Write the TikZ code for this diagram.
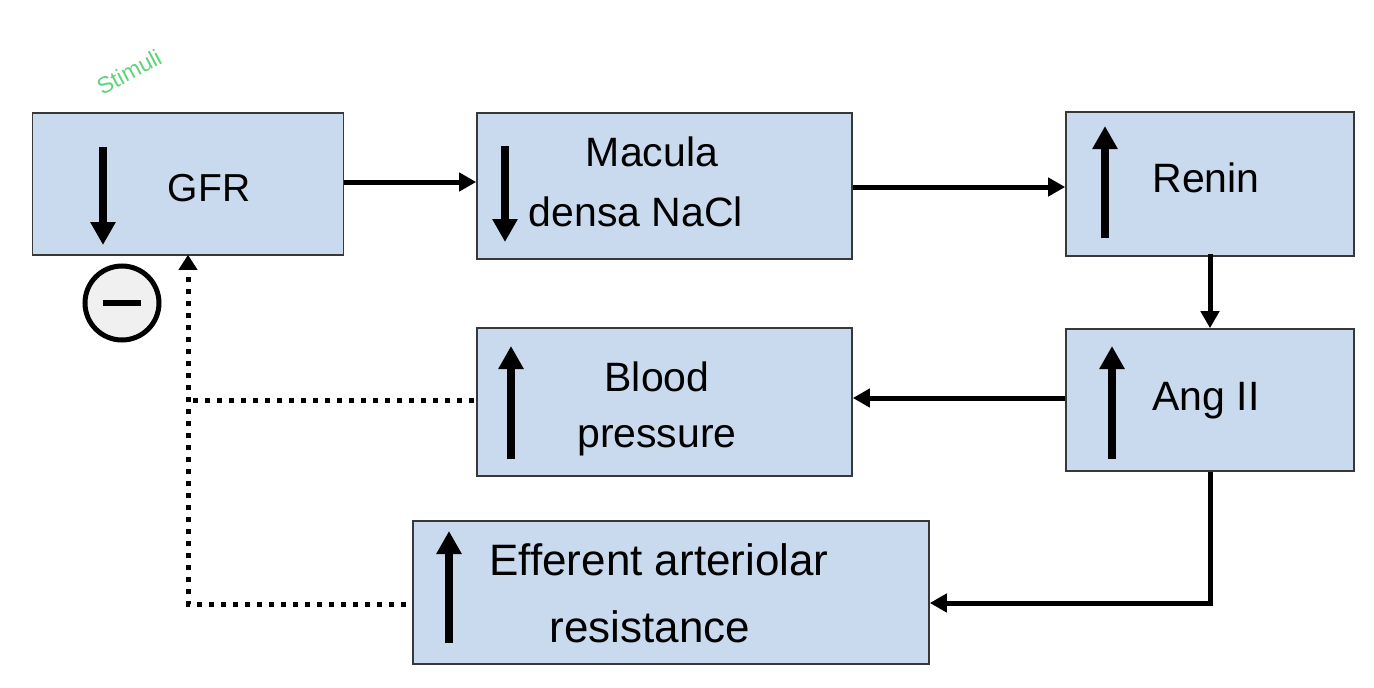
\documentclass[tikz,border=0pt]{standalone}
\usepackage{fontspec}
\setmainfont{Liberation Sans}
\usetikzlibrary{arrows.meta}
\definecolor{boxfill}{HTML}{C9DAEE}
\definecolor{boxline}{HTML}{383838}
\definecolor{stimgreen}{HTML}{5ED37A}
\tikzset{
  box/.style={draw=boxline, line width=1.6pt, fill=boxfill, inner sep=0pt},
  lbl/.style={align=center, inner sep=0pt},
  conn/.style={line width=5pt, -{Triangle[length=17pt,width=18pt]}},
  updown/.style={line width=8pt, -{Triangle[length=23pt,width=24pt]}},
  dotline/.style={line width=5pt, dash pattern=on 5pt off 7pt},
  dotarrow/.style={dotline, -{Triangle[length=15pt,width=18pt]}}
}
\begin{document}
\begin{tikzpicture}[x=1pt,y=-1pt]
\useasboundingbox (0,0) rectangle (1374,688);
% boxes
\node[box, minimum width=311pt, minimum height=142pt] (gfr) at (188,184) {};
\node[box, minimum width=375pt, minimum height=146pt] (mac) at (664.5,186) {};
\node[box, minimum width=288pt, minimum height=144pt] (ren) at (1210,184) {};
\node[box, minimum width=288pt, minimum height=142pt] (ang) at (1210,400) {};
\node[box, minimum width=375pt, minimum height=148pt] (bp) at (664.5,402) {};
\node[box, minimum width=516pt, minimum height=143pt] (eff) at (671,592.5) {};
% texts
\node[lbl, font=\fontsize{39}{47}\selectfont] (gfrT) at (209,188) {GFR};
\node[lbl, font=\fontsize{41}{60}\selectfont] (macT) at (652,182) {Macula\\densa NaCl\hspace*{32pt}};
\node[lbl, font=\fontsize{41}{50}\selectfont] (renT) at (1206,178) {Renin};
\node[lbl, font=\fontsize{41}{50}\selectfont] (angT) at (1206,401) {Ang II};
\node[lbl, font=\fontsize{41}{56}\selectfont] (bpT) at (657,409) {Blood\\pressure};
\node[lbl, font=\fontsize{44}{67}\selectfont] (effT) at (659,593) {Efferent arteriolar\\resistance\hspace*{18pt}};
\node[font=\fontsize{23}{26}\selectfont, text=stimgreen, rotate=28] (stim) at (129,72) {Stimuli};
% inner arrows
\draw[updown] (103,147) -- (103,245);
\draw[updown] (505,146) -- (505,242);
\draw[updown] (1105,238) -- (1105,126);
\draw[updown] (1112,459) -- (1112,346);
\draw[updown] (511,459) -- (511,346);
\draw[updown] (449,643) -- (449,531);
% minus circle
\node[draw=black, line width=5pt, fill=black!6, circle, minimum size=74pt, inner sep=0pt] (minus) at (122,303) {};
\draw[line width=6pt] ([xshift=-19pt]minus.center) -- ([xshift=19pt]minus.center);
% connectors
\coordinate (c1) at (1210,603);
\coordinate (d1) at (188,604);
\coordinate (d2) at (188,400);
\draw[conn] ([yshift=2pt]gfr.east) -- ([yshift=2pt]gfr.east -| mac.west);
\draw[conn] ([yshift=-1pt]mac.east) -- ([yshift=-1pt]mac.east -| ren.west);
\draw[conn] ([yshift=3pt]ren.south) -- (ang.north);
\draw[conn] ([yshift=2pt]ang.west) -- ([yshift=2pt]ang.west -| bp.east);
\draw[line width=5pt] (ang.south) -- ([yshift=2.5pt]c1);
\draw[conn] ([xshift=2.5pt]c1) -- (c1 -| eff.east);
\draw[dotarrow] ([xshift=-6pt]eff.west |- d1) -- (d1) -- ([yshift=1pt]d1 |- gfr.south);
\draw[dotline] ([xshift=-2pt]bp.west |- d2) -- (d2);
\end{tikzpicture}
\end{document}
